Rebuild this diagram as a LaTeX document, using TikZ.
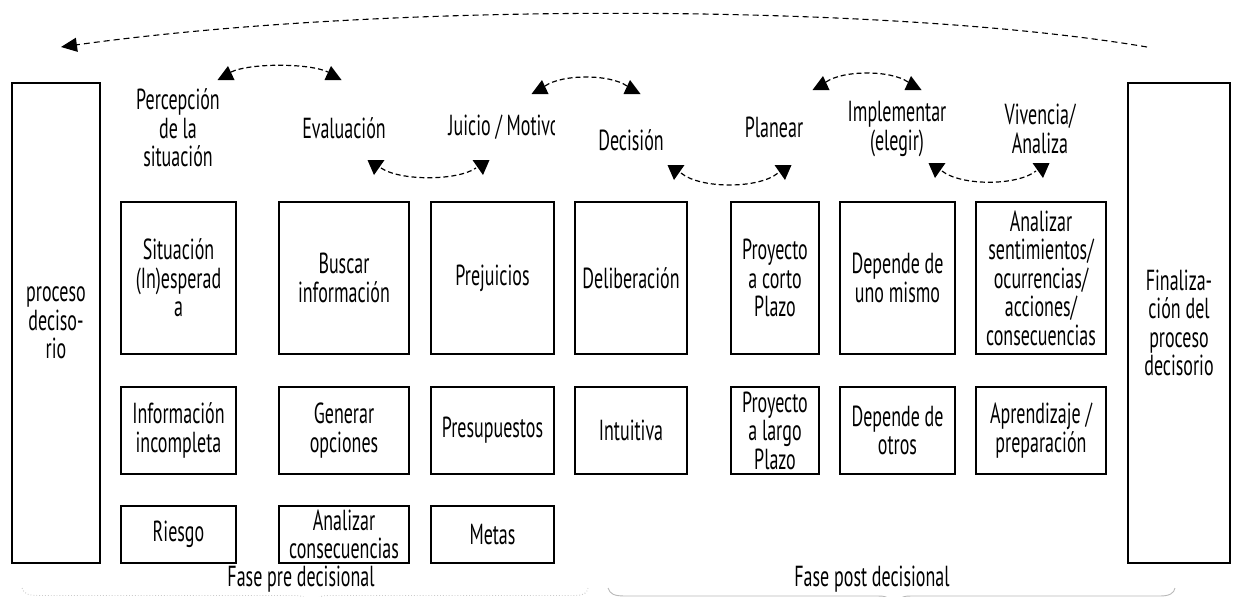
\documentclass[tikz,border=0pt]{standalone}
\usepackage{fontspec}
\setmainfont{PT Sans}[FakeStretch=0.62]
\usetikzlibrary{arrows.meta}
\tikzset{
  box/.style={draw, line width=2pt, align=center, inner sep=0pt},
  lbl/.style={align=center, inner sep=0pt},
  dsh/.style={line width=1.2pt, dash pattern=on 5pt off 3pt},
  brc/.style={line width=0.9pt},
}
% heads: \uphead{cx}{base y}{apex dx}, \downhead{cx}{top y}{apex dx}
\newcommand\uphead[3]{\fill (#1-8.5,#2) -- (#1+8.5,#2) -- (#1+#3,#2-14) -- cycle;}
\newcommand\downhead[3]{\fill (#1-8.5,#2) -- (#1+8.5,#2) -- (#1+#3,#2+15) -- cycle;}
\begin{document}
\begin{tikzpicture}[x=1pt,y=-1pt, font=\fontsize{29pt}{28.5pt}\selectfont]
\useasboundingbox (0,0) rectangle (1235,597);
\clip (0,0) rectangle (1235,597);

% side boxes
\node[box, minimum width=88pt, minimum height=480pt] (start) at (56,323) {proceso\\deciso-\\rio};
\node[box, minimum width=102pt, minimum height=480pt] (fin) at (1179,323) {Finaliza-\\ción del\\proceso\\decisorio};

% headings
\node[lbl] (perc) at (178,128) {Percepción\\de la\\situación};
\node[lbl] (eval) at (344,128) {Evaluación};
\begin{scope}
  \clip (420,100) rectangle (554,155);
  \node[lbl] (juic) at (504,127) {Juicio / Motivo};
\end{scope}
\node[lbl] (deci) at (631,140) {Decisión};
\node[lbl] (plan) at (774,127) {Planear};
\node[lbl] (impl) at (897,129) {Implementar\\(elegir)};
\node[lbl] (vive) at (1040,129) {Vivencia/\\Analiza};

% row 1
\node[box, minimum width=115pt, minimum height=152pt] (a1) at (178.5,278) {Situación\\(In)esperad\\a};
\node[box, minimum width=130pt, minimum height=152pt] (b1) at (344,278) {Buscar\\información};
\node[box, minimum width=123pt, minimum height=152pt] (c1) at (492.5,278) {Prejuicios};
\node[box, minimum width=112pt, minimum height=152pt] (d1) at (631,278) {Deliberación};
\node[box, minimum width=88pt, minimum height=152pt] (e1) at (775,278) {Proyecto\\a corto\\Plazo};
\node[box, minimum width=115pt, minimum height=152pt] (f1) at (897.5,278) {Depende de\\uno mismo};
\node[box, minimum width=130pt, minimum height=152pt] (g1) at (1041,278) {Analizar\\sentimientos/\\ocurrencias/\\acciones/\\consecuencias};

% row 2
\node[box, minimum width=115pt, minimum height=87pt] (a2) at (178.5,430.5) {Información\\incompleta};
\node[box, minimum width=130pt, minimum height=87pt] (b2) at (344,430.5) {Generar\\opciones};
\node[box, minimum width=123pt, minimum height=87pt] (c2) at (492.5,430.5) {Presupuestos};
\node[box, minimum width=112pt, minimum height=87pt] (d2) at (631,430.5) {Intuitiva};
\node[box, minimum width=88pt, minimum height=87pt] (e2) at (775,430.5) {Proyecto\\a largo\\Plazo};
\node[box, minimum width=115pt, minimum height=87pt] (f2) at (897.5,430.5) {Depende de\\otros};
\node[box, minimum width=130pt, minimum height=87pt] (g2) at (1041,430.5) {Aprendizaje /\\preparación};

% row 3
\node[box, minimum width=115pt, minimum height=57pt] (a3) at (178.5,534.5) {Riesgo};
\node[box, minimum width=130pt, minimum height=57pt] (b3) at (344,534.5) {Analizar\\consecuencias};
\node[box, minimum width=123pt, minimum height=57pt] (c3) at (492.5,534.5) {Metas};

% phase labels
\node[lbl] (pre) at (301,579) {Fase pre decisional};
\node[lbl] (post) at (872,579) {Fase post decisional};

% arrow end points
\coordinate (t1) at (1147,47);
\coordinate (t2) at (61,47);
\coordinate (u1a) at (231,72); \coordinate (u1b) at (328,72);
\coordinate (u2a) at (545,86); \coordinate (u2b) at (627,86);
\coordinate (u3a) at (826,82); \coordinate (u3b) at (908,82);
\coordinate (l1a) at (381,168); \coordinate (l1b) at (476,168);
\coordinate (l2a) at (681,173); \coordinate (l2b) at (778,173);
\coordinate (l3a) at (942,171); \coordinate (l3b) at (1036,171);

% big loop arrow
\draw[line width=1.1pt, dash pattern=on 6pt off 4pt, -{Triangle[length=16pt,width=14pt]}]
  (t1) .. controls (900,5) and (400,0) .. (t2);

% small double arrows (dashed curves + solid heads)
\draw[dsh] (u1a) .. controls (250,63) and (309,63) .. (u1b);
\uphead{226}{80}{2}\uphead{333}{80}{-2}
\draw[dsh] (u2a) .. controls (562,74) and (610,74) .. (u2b);
\uphead{540}{94}{2}\uphead{632}{94}{-2}
\draw[dsh] (u3a) .. controls (843,70) and (891,70) .. (u3b);
\uphead{821}{90}{2}\uphead{913}{90}{-2}
\draw[dsh] (l1a) .. controls (400,181) and (457,181) .. (l1b);
\downhead{376}{160}{-2}\downhead{481}{160}{2}
\draw[dsh] (l2a) .. controls (700,189) and (759,189) .. (l2b);
\downhead{676}{165}{-2}\downhead{783}{165}{2}
\draw[dsh] (l3a) .. controls (961,186) and (1017,186) .. (l3b);
\downhead{937}{163}{-2}\downhead{1041}{163}{2}

% phase braces
\draw[brc, gray!40, dotted] (22,588) .. controls (24,594) and (28,595.5) .. (40,595.5) -- (295,595.5)
  .. controls (302,595.5) and (305,597) .. (306,600);
\draw[brc, gray!40, dotted] (317,600) .. controls (318,597) and (321,595.5) .. (328,595.5) -- (575,595.5)
  .. controls (584,595.5) and (587,593) .. (588,588);
\draw[brc, gray!55] (608,588) .. controls (610,594) and (614,596) .. (625,596) -- (878,596)
  .. controls (885,596) and (888,597) .. (889,600);
\draw[brc, gray!55] (900,600) .. controls (901,597) and (904,596) .. (911,596) -- (1160,596)
  .. controls (1170,596) and (1174,593) .. (1175,588);
\end{tikzpicture}
\end{document}
